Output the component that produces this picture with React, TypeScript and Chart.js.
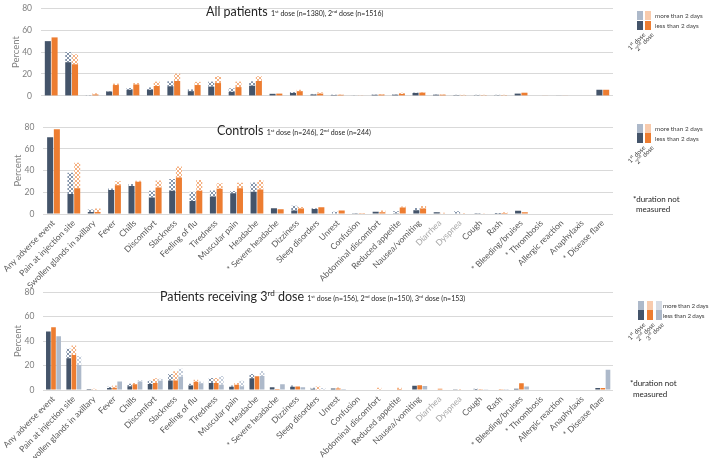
import React, { useEffect, useRef } from 'react';
import { Chart, registerables } from 'chart.js';
Chart.register(...registerables);

const categories = ['Any adverse event', 'Pain at injection site', 'Swollen glands in axillary', 'Fever', 'Chills', 'Discomfort', 'Slackness', 'Feeling of flu', 'Tiredness', 'Muscular pain', 'Headache', '* Severe headache', 'Dizziness', 'Sleep disorders', 'Unrest', 'Confusion', 'Abdominal discomfort', 'Reduced appetite', 'Nausea/vomiting', 'Diarrhea', 'Dyspnea', 'Cough', 'Rash', '* Bleeding/bruises', '* Thrombosis', 'Allergic reaction', 'Anaphylaxis', '* Disease flare'];
const greyLabels = ['Diarrhea', 'Dyspnea'];
const yTicks = [0, 10, 20, 30, 40, 50, 60, 70, 80];

// All patients
const allD1Short = [49.9, 30.7, 0.5, 4, 5.6, 5.6, 8.8, 4.3, 8.5, 3.7, 9.3, 1.9, 2.7, 1.3, 0.8, 0.4, 1, 1.1, 2.7, 1.1, 0.7, 0.6, 0.6, 2.1, 0, 0.4, 0, 5.6];
const allD1Long = [0, 9.3, 0.2, 0.5, 1.6, 2.1, 4.5, 1.6, 4.5, 3.2, 4, 0, 0.8, 0.5, 0.3, 0.1, 0.3, 0.3, 0.3, 0.3, 0.3, 0.4, 0.4, 0, 0, 0, 0, 0];
const allD2Short = [53.3, 28.8, 1.3, 9.9, 10.4, 9, 13.6, 9.9, 11.7, 8, 13.6, 2.1, 4.3, 2.1, 1, 0.4, 1.2, 1.8, 3, 1.1, 0.6, 0.6, 0.6, 2.9, 0.4, 0.4, 0, 5.6];
const allD2Long = [0, 9.1, 1.1, 1.3, 1.3, 4, 6.7, 2.9, 6.2, 5, 4.3, 0, 1.3, 1.1, 0.3, 0.1, 0.4, 1.1, 0.5, 0.3, 0.4, 0.4, 0.4, 0, 0, 0, 0, 0];

// Controls
const ctlD1Short = [70.7, 18.5, 1.8, 22, 25.8, 15.2, 21.4, 12, 16.1, 19, 20.5, 5.2, 3.2, 4.7, 0.5, 0.3, 2, 0.6, 3.5, 1.6, 0.4, 0.2, 0.3, 3, 0, 0, 0, 0];
const ctlD1Long = [0, 19.5, 2.3, 1.5, 1.8, 6.2, 10.9, 8.5, 5.6, 2.1, 8.5, 0, 4.3, 0.6, 1.5, 0.2, 0, 2, 2.1, 0.2, 2.2, 0.2, 0.6, 0, 0, 0, 0, 0];
const ctlD2Short = [78, 23.8, 1.8, 26.4, 29.6, 24.3, 33.7, 21.4, 23.2, 23.8, 22.6, 4.3, 5, 6.2, 3.2, 0.3, 1.5, 6, 5, 0.5, 0.5, 0.4, 1, 1.5, 0, 0.4, 0, 0];
const ctlD2Long = [0, 23.4, 3.2, 3.8, 0.9, 6.5, 10, 10, 5, 4.9, 8.8, 0, 1.5, 0, 0, 0.2, 1.7, 1, 2.3, 0.7, 0.4, 0.4, 0.7, 0, 0, 0, 0, 0];

// Patients receiving 3rd dose
const p3D1Short = [47.8, 26, 0.8, 1.6, 3.1, 4.9, 7.8, 3.6, 5.7, 2.6, 9.6, 2.3, 2.6, 1, 1.3, 0.5, 0.5, 0.5, 3.4, 0, 0.3, 0.3, 0.5, 1, 0, 0, 0, 1.6];
const p3D1Long = [0, 7.8, 0, 1, 2.1, 2.6, 5.2, 1.6, 4.2, 1, 3.4, 0, 1, 0.8, 0, 0, 0, 0, 0, 0, 0, 0.7, 0, 0, 0, 0, 0, 0];
const p3D2Short = [51.2, 28.6, 0.5, 1.8, 4.7, 5.7, 7.8, 6.8, 5.7, 4.2, 11.2, 0.8, 2.9, 0.5, 1.3, 0.5, 0.5, 0.8, 3.9, 1, 0.5, 0.3, 0.3, 5.5, 0, 0, 0, 1.6];
const p3D2Long = [0, 7.8, 0.5, 1.8, 1, 3.9, 7.5, 1.5, 4.2, 1.5, 0, 0, 0, 2.4, 0.8, 0, 1.3, 1, 0, 0, 0.3, 0.2, 0.2, 0, 0, 0, 0, 0];
const p3D3Short = [43.9, 20.5, 0, 7, 7, 7.5, 10.9, 5.5, 4.2, 3.1, 11.4, 4.7, 2.3, 0, 0.8, 0, 0.5, 0.5, 3.2, 0.5, 0, 0.3, 0.3, 2.9, 0, 0, 0, 16.6];
const p3D3Long = [0, 7.3, 0.5, 0, 1, 1.6, 6.5, 1.5, 7.2, 4.4, 4.2, 0, 0, 1.6, 0, 0, 0, 0, 0, 0, 0, 0, 0.2, 0, 0, 0, 0, 0];

const C1 = '#44546A';
const C2 = '#ED7D31';
const C3 = '#ADB9CA';
const C1L = '#ADB9CA';
const C2L = '#F8CBAD';
const C3L = '#D6DCE5';
const H1 = '#8494AA';
const H2 = '#F4B183';
const H3 = '#C3CCD9';
const FONT = 'Lato, "Noto Sans", sans-serif';

function makeHatch(fg: string): CanvasPattern | string {
  const c = document.createElement('canvas');
  c.width = 4;
  c.height = 4;
  const ctx = c.getContext('2d');
  if (!ctx) return fg;
  ctx.fillStyle = '#ffffff';
  ctx.fillRect(0, 0, 4, 4);
  ctx.fillStyle = fg;
  const px = [[0, 0], [1, 1], [2, 2], [3, 3], [3, 0], [2, 1], [1, 2], [0, 3]];
  px.forEach(([x, y]) => ctx.fillRect(x, y, 1, 1));
  const p = ctx.createPattern(c, 'repeat');
  return p || fg;
}

function buildOptions(showX: boolean, xHeight: number, catPct: number, barPct: number, padBottom: number): any {
  return {
    animation: false,
    responsive: false,
    maintainAspectRatio: false,
    layout: { padding: { top: 10, bottom: padBottom, left: 0, right: 7 } },
    plugins: { legend: { display: false }, tooltip: { enabled: false }, title: { display: false } },
    datasets: { bar: { categoryPercentage: catPct, barPercentage: barPct } },
    scales: {
      x: {
        stacked: true,
        display: showX,
        grid: { display: false, drawTicks: false },
        border: { display: false },
        ticks: {
          autoSkip: false,
          maxRotation: 45,
          minRotation: 45,
          padding: 4,
          font: { family: FONT, size: 8.5 },
          color: (ctx: any) => (greyLabels.includes(categories[ctx.index]) ? '#a6a6a6' : '#595959'),
        },
        afterFit: (s: any) => { s.height = xHeight; },
      },
      y: {
        stacked: true,
        min: yTicks[0],
        max: yTicks[yTicks.length - 1],
        afterBuildTicks: (s: any) => { s.ticks = yTicks.map((v) => ({ value: v })); },
        ticks: { padding: 9, font: { family: FONT, size: 8.5 }, color: '#7f7f7f' },
        grid: { color: '#d9d9d9', drawTicks: false },
        border: { display: false },
        title: { display: true, text: 'Percent', font: { family: FONT, size: 9.5 }, color: '#7f7f7f', padding: { top: 10, bottom: 0 } },
        afterFit: (s: any) => { s.width = 41; },
      },
    },
  };
}

function ds(label: string, data: number[], color: any, stack: string) {
  return { label, data, backgroundColor: color, borderWidth: 0, stack };
}

const legendText: React.CSSProperties = { position: 'absolute', fontSize: 6.3, color: '#404040', whiteSpace: 'nowrap', lineHeight: '8px' };

function Sq({ x, y, w, h, c }: { x: number; y: number; w: number; h: number; c: string }) {
  return <div style={{ position: 'absolute', left: x, top: y, width: w, height: h, background: c }} />;
}

function RotLabel({ ax, ay, children }: { ax: number; ay: number; children: React.ReactNode }) {
  return (
    <div style={{ position: 'absolute', right: 709 - ax, top: ay, fontSize: 6.3, color: '#404040', whiteSpace: 'nowrap', lineHeight: '7px', transformOrigin: 'right top', transform: 'rotate(-45deg)' }}>
      {children}
    </div>
  );
}

const supS: React.CSSProperties = { fontSize: '0.65em', verticalAlign: 'super', lineHeight: 0 };

export default function App() {
  const r1 = useRef<HTMLCanvasElement>(null);
  const r2 = useRef<HTMLCanvasElement>(null);
  const r3 = useRef<HTMLCanvasElement>(null);

  useEffect(() => {
    const h1 = makeHatch(H1);
    const h2 = makeHatch(H2);
    const h3 = makeHatch(H3);
    const charts: Chart[] = [];
    if (r1.current) {
      charts.push(new Chart(r1.current, {
        type: 'bar',
        data: {
          labels: categories,
          datasets: [
            ds('1st dose less than 2 days', allD1Short, C1, 'd1'),
            ds('1st dose more than 2 days', allD1Long, h1, 'd1'),
            ds('2nd dose less than 2 days', allD2Short, C2, 'd2'),
            ds('2nd dose more than 2 days', allD2Long, h2, 'd2'),
          ],
        },
        options: buildOptions(false, 0, 0.66, 0.9, 6),
      }));
    }
    if (r2.current) {
      charts.push(new Chart(r2.current, {
        type: 'bar',
        data: {
          labels: categories,
          datasets: [
            ds('1st dose less than 2 days', ctlD1Short, C1, 'd1'),
            ds('1st dose more than 2 days', ctlD1Long, h1, 'd1'),
            ds('2nd dose less than 2 days', ctlD2Short, C2, 'd2'),
            ds('2nd dose more than 2 days', ctlD2Long, h2, 'd2'),
          ],
        },
        options: buildOptions(true, 80, 0.66, 0.9, 0),
      }));
    }
    if (r3.current) {
      charts.push(new Chart(r3.current, {
        type: 'bar',
        data: {
          labels: categories,
          datasets: [
            ds('1st dose less than 2 days', p3D1Short, C1, 'd1'),
            ds('1st dose more than 2 days', p3D1Long, h1, 'd1'),
            ds('2nd dose less than 2 days', p3D2Short, C2, 'd2'),
            ds('2nd dose more than 2 days', p3D2Long, h2, 'd2'),
            ds('3rd dose less than 2 days', p3D3Short, C3, 'd3'),
            ds('3rd dose more than 2 days', p3D3Long, h3, 'd3'),
          ],
        },
        options: buildOptions(true, 68, 0.76, 0.9, 0),
      }));
    }
    return () => { charts.forEach((c) => c.destroy()); };
  }, []);

  return (
    <div style={{ position: 'absolute', left: 0, top: 0, width: 709, height: 458, background: '#fff', overflow: 'hidden', fontFamily: FONT }}>
      <canvas ref={r1} width={620} height={116} style={{ position: 'absolute', left: 0, top: -6, width: 620, height: 116 }} />
      <canvas ref={r2} width={620} height={181} style={{ position: 'absolute', left: 0, top: 113, width: 620, height: 181 }} />
      <canvas ref={r3} width={620} height={180} style={{ position: 'absolute', left: 0, top: 278, width: 620, height: 180 }} />

      <div style={{ position: 'absolute', left: 206, top: 4, whiteSpace: 'nowrap', color: '#262626', fontSize: 12.5, lineHeight: '15px' }}>
        All patients <span style={{ fontSize: 7 }}>1<span style={supS}>st</span> dose (n=1380), 2<span style={supS}>nd</span> dose (n=1516)</span>
      </div>
      <div style={{ position: 'absolute', left: 217, top: 123, whiteSpace: 'nowrap', color: '#262626', fontSize: 12.5, lineHeight: '15px' }}>
        Controls <span style={{ fontSize: 7 }}>1<span style={supS}>st</span> dose (n=246), 2<span style={supS}>nd</span> dose (n=244)</span>
      </div>
      <div style={{ position: 'absolute', left: 160, top: 289, whiteSpace: 'nowrap', color: '#262626', fontSize: 12.5, lineHeight: '15px' }}>
        Patients receiving 3<span style={supS}>rd</span> dose <span style={{ fontSize: 7 }}>1<span style={supS}>st</span> dose (n=156), 2<span style={supS}>nd</span> dose (n=150), 3<span style={supS}>rd</span> dose (n=153)</span>
      </div>

      {/* Legend panel 1 */}
      <Sq x={637} y={11} w={6} h={9} c={C1L} />
      <Sq x={637} y={20.5} w={6} h={9} c={C1} />
      <Sq x={645} y={11} w={6} h={9} c={C2L} />
      <Sq x={645} y={20.5} w={6} h={9} c={C2} />
      <div style={{ ...legendText, left: 655, top: 12 }}>more than 2 days</div>
      <div style={{ ...legendText, left: 655, top: 22 }}>less than 2 days</div>
      <RotLabel ax={642} ay={31}>1<span style={supS}>st</span> dose</RotLabel>
      <RotLabel ax={650} ay={31}>2<span style={supS}>nd</span> dose</RotLabel>

      {/* Legend panel 2 */}
      <Sq x={637} y={123.5} w={6} h={9} c={C1L} />
      <Sq x={637} y={133} w={6} h={9.5} c={C1} />
      <Sq x={645} y={123.5} w={6} h={9} c={C2L} />
      <Sq x={645} y={133} w={6} h={9.5} c={C2} />
      <div style={{ ...legendText, left: 655, top: 125 }}>more than 2 days</div>
      <div style={{ ...legendText, left: 655, top: 135 }}>less than 2 days</div>
      <RotLabel ax={642} ay={144}>1<span style={supS}>st</span> dose</RotLabel>
      <RotLabel ax={650} ay={144}>2<span style={supS}>nd</span> dose</RotLabel>
      <div style={{ position: 'absolute', left: 633, top: 194, fontSize: 8, color: '#262626', lineHeight: '10px', whiteSpace: 'nowrap' }}>
        *duration not<br /><span style={{ paddingLeft: 3 }}>measured</span>
      </div>

      {/* Legend panel 3 */}
      <Sq x={638} y={300.5} w={5.5} h={9} c={C1L} />
      <Sq x={638} y={310} w={5.5} h={9.5} c={C1} />
      <Sq x={647} y={300.5} w={5.5} h={9} c={C2L} />
      <Sq x={647} y={310} w={5.5} h={9.5} c={C2} />
      <Sq x={656} y={300.5} w={5.5} h={9} c={C3L} />
      <Sq x={656} y={310} w={5.5} h={9.5} c={C3} />
      <div style={{ ...legendText, left: 663, top: 302, letterSpacing: -0.15 }}>more than 2 days</div>
      <div style={{ ...legendText, left: 663, top: 312, letterSpacing: -0.15 }}>less than 2 days</div>
      <RotLabel ax={642} ay={321}>1<span style={supS}>st</span> dose</RotLabel>
      <RotLabel ax={651} ay={321}>2<span style={supS}>nd</span> dose</RotLabel>
      <RotLabel ax={660} ay={321}>3<span style={supS}>rd</span> dose</RotLabel>
      <div style={{ position: 'absolute', left: 630, top: 378, fontSize: 8, color: '#262626', lineHeight: '11px', whiteSpace: 'nowrap' }}>
        *duration not<br /><span style={{ paddingLeft: 3 }}>measured</span>
      </div>
    </div>
  );
}
